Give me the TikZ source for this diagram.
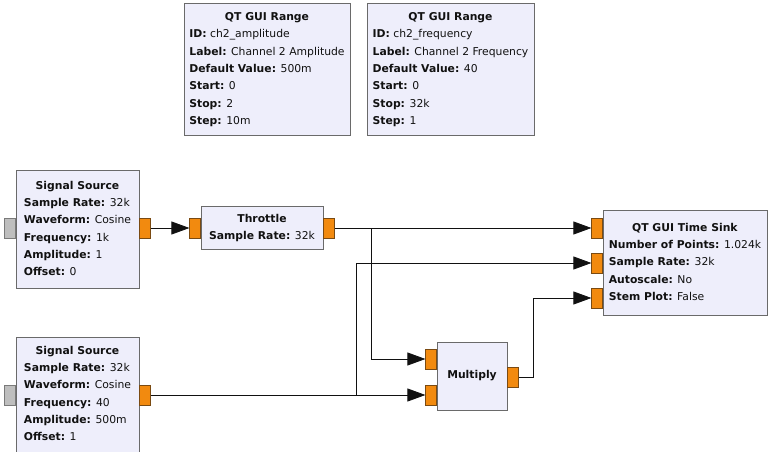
\documentclass[tikz,border=0pt]{standalone}
\usepackage{fontspec}
\setmainfont{DejaVu Sans}
\usepackage{xcolor}
\usetikzlibrary{arrows.meta,positioning}
\definecolor{ink}     {HTML}{111111}
\definecolor{blockbd} {HTML}{6A6A6A}
\definecolor{blockbg} {HTML}{EEEEFB}
\definecolor{portbg}  {HTML}{F28A0F}
\definecolor{portbd}  {HTML}{7A4A12}
\definecolor{idlebg}  {HTML}{BEBEBE}
\definecolor{idlebd}  {HTML}{7A7A7A}
\tikzset{
  block/.style  ={draw=blockbd, fill=blockbg, line width=0.8pt, inner sep=0pt},
  port/.style   ={draw=portbd, fill=portbg, line width=0.6pt,
                  minimum width=11, minimum height=20, inner sep=0pt},
  idle/.style   ={port, draw=idlebd, fill=idlebg},
  txt/.style    ={font=\fontsize{10.8}{13}\selectfont, inner sep=0pt, text=ink},
  wire/.style   ={draw=ink, line width=0.8pt},
  flow/.style   ={wire, -{Triangle[length=18pt,width=13pt]}},
}
\newcommand{\prm}[2]{\textbf{#1:} #2}
\newcommand{\blocktext}[2]{\renewcommand{\arraystretch}{1.33}%
  \begin{tabular}{@{}l@{}}\multicolumn{1}{@{}c@{}}{\textbf{#1}}\\#2\end{tabular}}

\begin{document}
\begin{tikzpicture}[x=1pt,y=-1pt]
  \useasboundingbox[fill=white] (0,0) rectangle (768,452);

  % variables
  \node[block, minimum width=166, minimum height=132] (rng1) at (267,69) {};
  \node[txt] (rng1t) at (rng1) {\blocktext{QT GUI Range}{%
      \prm{ID}{ch2\_amplitude}\\ \prm{Label}{Channel 2 Amplitude}\\
      \prm{Default Value}{500m}\\ \prm{Start}{0}\\ \prm{Stop}{2}\\ \prm{Step}{10m}}};
  \node[block, minimum width=167, minimum height=132] (rng2) at (450.5,69) {};
  \node[txt] (rng2t) at (rng2) {\blocktext{QT GUI Range}{%
      \prm{ID}{ch2\_frequency}\\ \prm{Label}{Channel 2 Frequency}\\
      \prm{Default Value}{40}\\ \prm{Start}{0}\\ \prm{Stop}{32k}\\ \prm{Step}{1}}};

  % sources
  \node[block, minimum width=123, minimum height=118] (src1) at (77.5,229) {};
  \node[txt] (src1t) at (src1) {\blocktext{Signal Source}{%
      \prm{Sample Rate}{32k}\\ \prm{Waveform}{Cosine}\\ \prm{Frequency}{1k}\\
      \prm{Amplitude}{1}\\ \prm{Offset}{0}}};
  \node[idle, anchor=east] (src1in)  at (16,228) {};
  \node[port, anchor=west] (src1out) at (139,228) {};

  \node[block, minimum width=123, minimum height=118] (src2) at (77.5,396) {};
  \node[txt] (src2t) at (77.5,394) {\blocktext{Signal Source}{%
      \prm{Sample Rate}{32k}\\ \prm{Waveform}{Cosine}\\ \prm{Frequency}{40}\\
      \prm{Amplitude}{500m}\\ \prm{Offset}{1}}};
  \node[idle, anchor=east] (src2in)  at (16,395) {};
  \node[port, anchor=west] (src2out) at (139,395) {};

  % throttle
  \node[block, minimum width=122, minimum height=43] (thr) at (262,227.5) {};
  \node[txt] (thrt) at (thr) {\blocktext{Throttle}{\prm{Sample Rate}{32k}}};
  \node[port, anchor=east] (thrin)  at (201,228) {};
  \node[port, anchor=west] (throut) at (323,228) {};

  % multiply
  \node[block, minimum width=70, minimum height=68] (mul) at (472,376) {};
  \node[txt] (mult) at (mul) {\textbf{Multiply}};
  \node[port, anchor=east] (mulin0) at (437,359) {};
  \node[port, anchor=east] (mulin1) at (437,395) {};
  \node[port, anchor=west] (mulout) at (507,377) {};

  % sink
  \node[block, minimum width=164, minimum height=105] (sink) at (685,262.5) {};
  \node[txt] (sinkt) at (sink) {\blocktext{QT GUI Time Sink}{%
      \prm{Number of Points}{1.024k}\\ \prm{Sample Rate}{32k}\\
      \prm{Autoscale}{No}\\ \prm{Stem Plot}{False}}};
  \node[port, anchor=east] (sinkin0) at (603,228) {};
  \node[port, anchor=east] (sinkin1) at (603,263) {};
  \node[port, anchor=east] (sinkin2) at (603,298) {};

  % connections
  \coordinate (tap1) at (371,228);
  \coordinate (tap2) at (356,395);
  \draw[flow] (src1out.east) -- (thrin.west);
  \draw[flow] (throut.east) -- (sinkin0.west);
  \draw[flow] (tap1) |- (mulin0.west);
  \draw[flow] (src2out.east) -- (mulin1.west);
  \draw[flow] (tap2) |- (sinkin1.west);
  \draw[flow] (mulout.east) -- ++(15,0) |- (sinkin2.west);
\end{tikzpicture}
\end{document}
